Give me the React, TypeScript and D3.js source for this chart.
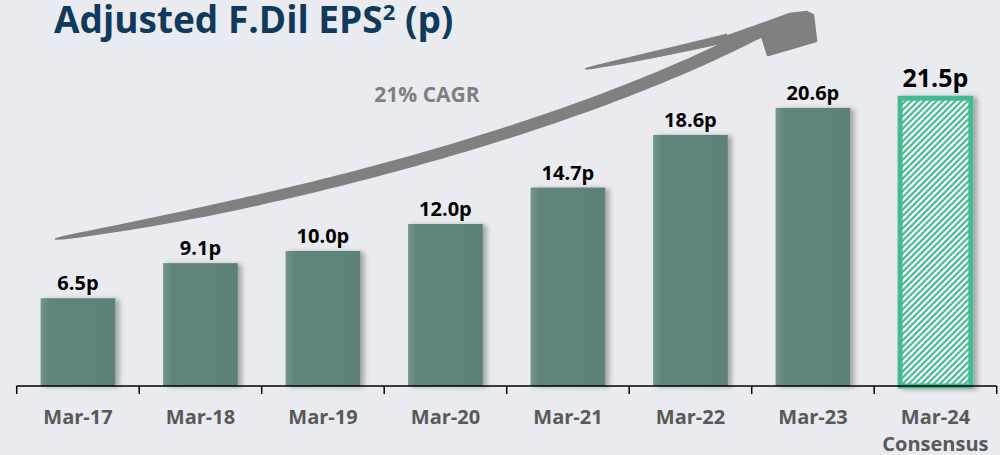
import React, { useRef, useEffect } from "react";
import * as d3 from "d3";

// data
const periods = ["Mar-17", "Mar-18", "Mar-19", "Mar-20", "Mar-21", "Mar-22", "Mar-23", "Mar-24"];
const subLabels = ["", "", "", "", "", "", "", "Consensus"];
const eps = [6.5, 9.1, 10.0, 12.0, 14.7, 18.6, 20.6, 21.5];
const isForecast = [false, false, false, false, false, false, false, true];
const valueLabels = ["6.5p", "9.1p", "10.0p", "12.0p", "14.7p", "18.6p", "20.6p", "21.5p"];

const W = 1000;
const H = 455;
const FONT = "'Open Sans', 'Noto Sans', sans-serif";

type Pt = [number, number];

// growth arrow (decoration only): bezier spines + width profile
const bodySpine: Pt[] = [[55, 239], [300, 200], [580, 125], [762, 30]];
const branchSpine: Pt[] = [[585, 69], [650, 56], [728, 38]];
const arrowHead: Pt[] = [[720, 39], [790, 14], [807, 12], [813, 15], [816, 41], [768, 55], [762, 36], [740, 44]];

function bez(p: Pt[], t: number): Pt {
  let pts = p.slice();
  while (pts.length > 1) {
    const next: Pt[] = [];
    for (let i = 0; i < pts.length - 1; i++) {
      next.push([pts[i][0] + (pts[i + 1][0] - pts[i][0]) * t, pts[i][1] + (pts[i + 1][1] - pts[i][1]) * t]);
    }
    pts = next;
  }
  return pts[0];
}

// stroke outline of a tapered spine
function taper(p: Pt[], width: (t: number) => number, n = 90): Pt[] {
  const up: Pt[] = [];
  const lo: Pt[] = [];
  for (let i = 0; i <= n; i++) {
    const t = i / n;
    const a = bez(p, Math.max(0, t - 0.002));
    const b = bez(p, Math.min(1, t + 0.002));
    const dx = b[0] - a[0];
    const dy = b[1] - a[1];
    const len = Math.hypot(dx, dy) || 1;
    const nx = dy / len;
    const ny = -dx / len;
    const c = bez(p, t);
    const w = width(t) / 2;
    up.push([c[0] + nx * w, c[1] + ny * w]);
    lo.push([c[0] - nx * w, c[1] - ny * w]);
  }
  return up.concat(lo.reverse());
}

const App = () => {
  const ref = useRef<SVGSVGElement | null>(null);

  useEffect(() => {
    const svg = d3.select(ref.current);
    svg.selectAll("*").remove();

    const baseY = 386;
    const x = d3
      .scaleBand<string>()
      .domain(periods)
      .range([16.7, 996.7])
      .paddingInner(0.39)
      .paddingOuter(0.195);
    const y = d3.scaleLinear().domain([0, 25]).range([baseY, 48.5]);

    svg.append("rect").attr("width", W).attr("height", H).attr("fill", "#EAEBF0");

    // defs: shadow, bar gradient, hatch
    const defs = svg.append("defs");
    const sh = defs.append("filter").attr("id", "shadow").attr("x", "-20%").attr("y", "-10%").attr("width", "140%").attr("height", "120%");
    sh.append("feDropShadow")
      .attr("dx", 4)
      .attr("dy", 1)
      .attr("stdDeviation", 2.5)
      .attr("flood-color", "#000")
      .attr("flood-opacity", 0.3);

    const grad = defs.append("linearGradient").attr("id", "barGrad").attr("x1", 0).attr("x2", 1).attr("y1", 0).attr("y2", 0);
    grad.append("stop").attr("offset", "0%").attr("stop-color", "#729690");
    grad.append("stop").attr("offset", "12%").attr("stop-color", "#60837B");
    grad.append("stop").attr("offset", "100%").attr("stop-color", "#5D8179");

    const hatch = defs
      .append("pattern")
      .attr("id", "hatch")
      .attr("patternUnits", "userSpaceOnUse")
      .attr("width", 4.4)
      .attr("height", 10)
      .attr("patternTransform", "rotate(45)");
    hatch.append("rect").attr("width", 4.4).attr("height", 10).attr("fill", "#45B98F");
    hatch.append("rect").attr("width", 2.2).attr("height", 10).attr("fill", "#FFFFFF");

    // title
    const title = svg
      .append("text")
      .attr("x", 54)
      .attr("y", 33)
      .attr("font-family", FONT)
      .attr("font-weight", 700)
      .attr("font-size", 37)
      .attr("fill", "#0F3A5C");
    title.append("tspan").text("Adjusted F.Dil EPS");
    title.append("tspan").attr("font-size", 22).attr("dy", -13).text("2");
    title.append("tspan").attr("dy", 13).text(" (p)");

    // growth arrow
    const line = d3.line().curve(d3.curveLinearClosed);
    const arrow = svg.append("g").attr("fill", "#808080");
    const bodyW = (t: number) => {
      const s = Math.min(1, t / 0.22);
      return 1.5 + 8.5 * Math.sqrt(s) + 3 * t;
    };
    const branchW = (t: number) => 1 + 8 * Math.sqrt(t);
    arrow.append("path").attr("d", line(taper(bodySpine, bodyW)));
    arrow.append("path").attr("d", line(taper(branchSpine, branchW)));
    arrow
      .append("path")
      .attr("d", line(arrowHead))
      .attr("stroke", "#808080")
      .attr("stroke-width", 2.5)
      .attr("stroke-linejoin", "round");

    svg
      .append("text")
      .attr("x", 427)
      .attr("y", 102)
      .attr("text-anchor", "middle")
      .attr("font-family", FONT)
      .attr("font-weight", 700)
      .attr("font-size", 21)
      .attr("fill", "#7F7F7F")
      .text("21% CAGR");

    // bars
    const bars = svg.append("g");
    periods.forEach((p, i) => {
      const x0 = x(p) as number;
      const bw = x.bandwidth();
      if (isForecast[i]) {
        bars
          .append("rect")
          .attr("x", x0 + 2)
          .attr("y", y(eps[i]) + 2.5)
          .attr("width", bw - 4)
          .attr("height", baseY - y(eps[i]) - 2.5)
          .attr("fill", "url(#hatch)")
          .attr("stroke", "#45B98F")
          .attr("stroke-width", 5)
          .attr("filter", "url(#shadow)");
      } else {
        bars
          .append("rect")
          .attr("x", x0)
          .attr("y", y(eps[i]))
          .attr("width", bw)
          .attr("height", baseY - y(eps[i]))
          .attr("fill", "url(#barGrad)")
          .attr("filter", "url(#shadow)");
      }
    });

    // value labels
    svg
      .append("g")
      .selectAll("text")
      .data(eps)
      .join("text")
      .attr("x", (d, i) => (x(periods[i]) as number) + x.bandwidth() / 2)
      .attr("y", (d, i) => y(d) - (isForecast[i] ? 9 : 8))
      .attr("text-anchor", "middle")
      .attr("font-family", FONT)
      .attr("font-weight", 700)
      .attr("font-size", (d, i) => (isForecast[i] ? 25 : 20))
      .attr("fill", "#000")
      .text((d, i) => valueLabels[i]);

    // axis
    const axis = svg.append("g").attr("stroke", "#000").attr("stroke-width", 1.5).attr("fill", "none");
    const step = x.step();
    const start = x.range()[0];
    axis.append("line").attr("x1", start).attr("x2", start + step * periods.length).attr("y1", baseY).attr("y2", baseY);
    d3.range(periods.length + 1).forEach((k) => {
      axis
        .append("line")
        .attr("x1", start + k * step)
        .attr("x2", start + k * step)
        .attr("y1", baseY)
        .attr("y2", baseY + 8);
    });

    const tl = svg
      .append("g")
      .attr("font-family", FONT)
      .attr("font-weight", 700)
      .attr("font-size", 20)
      .attr("fill", "#595959")
      .attr("text-anchor", "middle");
    periods.forEach((p, i) => {
      const cx = (x(p) as number) + x.bandwidth() / 2;
      tl.append("text").attr("x", cx).attr("y", 424).text(p);
      if (subLabels[i]) tl.append("text").attr("x", cx).attr("y", 451).text(subLabels[i]);
    });
  }, []);

  return (
    <svg
      ref={ref}
      width={W}
      height={H}
      style={{ position: "absolute", left: 0, top: 0, display: "block" }}
    />
  );
};

export default App;
